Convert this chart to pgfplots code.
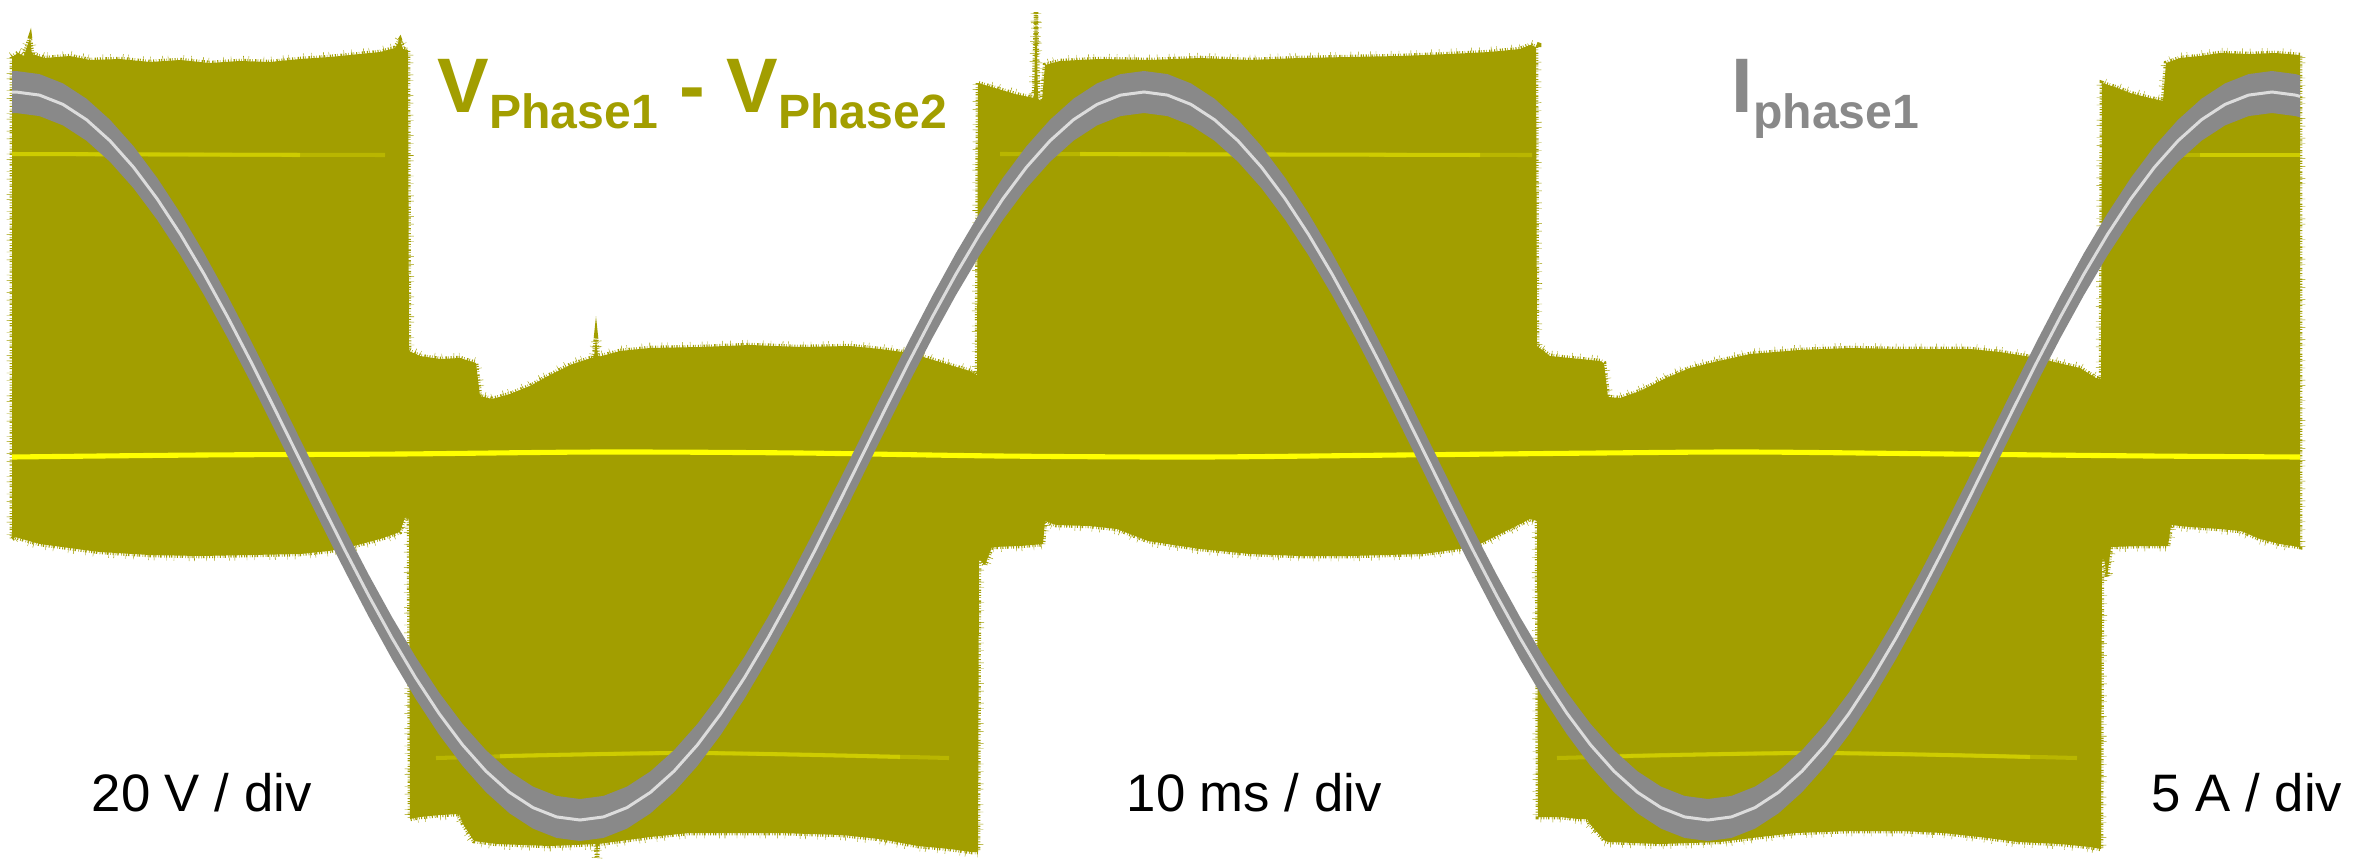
\documentclass[border=0pt]{standalone}
\usepackage{fontspec}
\setmainfont{Liberation Sans}
\usepackage{pgfplots}
\pgfplotsset{compat=1.18}
\usepackage{pgfplotstable}
\definecolor{band}{RGB}{162,158,0}
\definecolor{cur}{RGB}{137,137,137}
\definecolor{curline}{RGB}{220,220,220}
\definecolor{yl}{RGB}{255,255,0}

% mean phase current (pixel units, y downwards)
\pgfplotstableread{
x y
12 92.1
16 92
39.5 95.1
63 104.4
86.5 119.7
110 140.8
133.5 167.2
157 198.6
180.5 234.4
204 274
227.5 316.7
251 361.8
274.5 408.5
298 456
321.5 503.5
345 550.2
368.5 595.3
392 638
415.5 677.6
439 713.4
462.5 744.8
486 771.2
509.5 792.3
533 807.6
556.5 816.9
580 820
603.5 816.9
627 807.6
650.5 792.3
674 771.2
697.5 744.8
721 713.4
744.5 677.6
768 638
791.5 595.3
815 550.2
838.5 503.5
862 456
885.5 408.5
909 361.8
932.5 316.7
956 274
979.5 234.4
1003 198.6
1026.5 167.2
1050 140.8
1073.5 119.7
1097 104.4
1120.5 95.1
1144 92
1167.5 95.1
1191 104.4
1214.5 119.7
1238 140.8
1261.5 167.2
1285 198.6
1308.5 234.4
1332 274
1355.5 316.7
1379 361.8
1402.5 408.5
1426 456
1449.5 503.5
1473 550.2
1496.5 595.3
1520 638
1543.5 677.6
1567 713.4
1590.5 744.8
1614 771.2
1637.5 792.3
1661 807.6
1684.5 816.9
1708 820
1731.5 816.9
1755 807.6
1778.5 792.3
1802 771.2
1825.5 744.8
1849 713.4
1872.5 677.6
1896 638
1919.5 595.3
1943 550.2
1966.5 503.5
1990 456
2013.5 408.5
2037 361.8
2060.5 316.7
2084 274
2107.5 234.4
2131 198.6
2154.5 167.2
2178 140.8
2201.5 119.7
2225 104.4
2248.5 95.1
2272 92
2295.5 95.1
2300 96.4
}\current

% ripple band of the phase current (upper edge, then lower edge back)
\pgfplotstableread{
x y
12 71.1
16 71
39.5 74.1
63 83.4
86.5 98.7
110 119.8
133.5 146.2
157 177.6
180.5 213.4
204 253
227.5 295.7
251 340.8
274.5 387.5
298 435
321.5 482.5
345 529.2
368.5 574.3
392 617
415.5 656.6
439 692.4
462.5 723.8
486 750.2
509.5 771.3
533 786.6
556.5 795.9
580 799
603.5 795.9
627 786.6
650.5 771.3
674 750.2
697.5 723.8
721 692.4
744.5 656.6
768 617
791.5 574.3
815 529.2
838.5 482.5
862 435
885.5 387.5
909 340.8
932.5 295.7
956 253
979.5 213.4
1003 177.6
1026.5 146.2
1050 119.8
1073.5 98.7
1097 83.4
1120.5 74.1
1144 71
1167.5 74.1
1191 83.4
1214.5 98.7
1238 119.8
1261.5 146.2
1285 177.6
1308.5 213.4
1332 253
1355.5 295.7
1379 340.8
1402.5 387.5
1426 435
1449.5 482.5
1473 529.2
1496.5 574.3
1520 617
1543.5 656.6
1567 692.4
1590.5 723.8
1614 750.2
1637.5 771.3
1661 786.6
1684.5 795.9
1708 799
1731.5 795.9
1755 786.6
1778.5 771.3
1802 750.2
1825.5 723.8
1849 692.4
1872.5 656.6
1896 617
1919.5 574.3
1943 529.2
1966.5 482.5
1990 435
2013.5 387.5
2037 340.8
2060.5 295.7
2084 253
2107.5 213.4
2131 177.6
2154.5 146.2
2178 119.8
2201.5 98.7
2225 83.4
2248.5 74.1
2272 71
2295.5 74.1
2300 75.4
2300 117.4
2295.5 116.1
2272 113
2248.5 116.1
2225 125.4
2201.5 140.7
2178 161.8
2154.5 188.2
2131 219.6
2107.5 255.4
2084 295
2060.5 337.7
2037 382.8
2013.5 429.5
1990 477
1966.5 524.5
1943 571.2
1919.5 616.3
1896 659
1872.5 698.6
1849 734.4
1825.5 765.8
1802 792.2
1778.5 813.3
1755 828.6
1731.5 837.9
1708 841
1684.5 837.9
1661 828.6
1637.5 813.3
1614 792.2
1590.5 765.8
1567 734.4
1543.5 698.6
1520 659
1496.5 616.3
1473 571.2
1449.5 524.5
1426 477
1402.5 429.5
1379 382.8
1355.5 337.7
1332 295
1308.5 255.4
1285 219.6
1261.5 188.2
1238 161.8
1214.5 140.7
1191 125.4
1167.5 116.1
1144 113
1120.5 116.1
1097 125.4
1073.5 140.7
1050 161.8
1026.5 188.2
1003 219.6
979.5 255.4
956 295
932.5 337.7
909 382.8
885.5 429.5
862 477
838.5 524.5
815 571.2
791.5 616.3
768 659
744.5 698.6
721 734.4
697.5 765.8
674 792.2
650.5 813.3
627 828.6
603.5 837.9
580 841
556.5 837.9
533 828.6
509.5 813.3
486 792.2
462.5 765.8
439 734.4
415.5 698.6
392 659
368.5 616.3
345 571.2
321.5 524.5
298 477
274.5 429.5
251 382.8
227.5 337.7
204 295
180.5 255.4
157 219.6
133.5 188.2
110 161.8
86.5 140.7
63 125.4
39.5 116.1
16 113
12 113.1
}\ripple

% envelope of the PWM line-to-line voltage (top edge, then bottom edge back)
\pgfplotstableread{
x y
12 57
18 53
24 56
30 38
32 54
45 58
70 56
90 60
120 59
150 62
180 60
210 63
240 61
270 62
300 59
330 57
360 54
380 52
395 48
400 40
403 49
408 50
409 351
420 356
440 359
460 358
476 363
480 396
492 399
510 394
530 386
548 376
570 365
594 357
596 338
598 357
620 351
650 348
700 347
750 345
800 347
850 346
880 349
910 353
930 359
950 365
970 371
977 375
978 83
995 88
1015 94
1034 98
1036 12
1038 99
1042 101
1045 65
1060 61
1100 59
1150 60
1200 58
1250 60
1300 58
1350 57
1400 56
1450 54
1490 52
1520 49
1530 45
1536 47
1537 346
1550 356
1580 359
1600 361
1604 363
1608 397
1620 398
1640 391
1666 378
1690 368
1710 363
1750 354
1800 350
1850 348
1900 349
1970 349
2000 352
2025 356
2050 361
2080 368
2096 378
2101 379
2102 83
2115 87
2130 93
2150 98
2163 101
2166 63
2180 58
2200 56
2220 53
2250 54
2275 53
2300 55
2300 547
2280 544
2260 539
2241 531
2220 529
2190 527
2171 525
2168 546
2140 546
2111 547
2107 577
2104 559
2102 559
2101 849
2090 847
2060 844
2018 842
1980 837
1943 833
1900 831
1850 831
1795 833
1760 837
1720 842
1660 844
1609 842
1605 841
1590 824
1587 819
1579 819
1560 817
1538 817
1537 521
1530 519
1520 524
1500 534
1480 544
1460 549
1423 554
1350 556
1300 556
1250 554
1200 549
1148 541
1117 529
1090 526
1056 525
1045 521
1043 544
1020 546
992 547
985 565
979 559
978 852
972 852
950 849
918 846
880 839
842 835
780 833
689 833
650 837
598 844
597 858
596 844
550 846
497 844
474 841
463 824
459 814
440 815
420 817
410 819
409 519
405 517
400 532
380 539
350 547
329 551
300 554
250 555
200 556
150 555
100 552
77 549
40 544
15 537
12 539
}\envelope

\begin{document}
\begin{tikzpicture}
\begin{axis}[
  width=236.6mm, height=85.9mm, scale only axis,
  xmin=0, xmax=2366, ymin=0, ymax=859, y dir=reverse,
  hide axis, clip=true]

% PWM voltage envelope with a fine noise fringe
\addplot[fill=band, draw=none] table {\envelope} --cycle;
\addplot[draw=band, line width=1.3pt,
  dash pattern=on 0.3pt off 0.45pt on 0.15pt off 0.7pt on 0.4pt off 0.3pt on 0.2pt off 0.55pt]
  table {\envelope} --cycle;
\addplot[draw=band, line width=3pt,
  dash pattern=on 0.12pt off 2.1pt on 0.1pt off 3.3pt on 0.15pt off 1.4pt on 0.1pt off 4.2pt]
  table {\envelope} --cycle;

% faint upper / lower level traces
\addplot[yl, opacity=0.25, line width=1.15pt] coordinates {(12,154) (385,155)};
\addplot[yl, opacity=0.3, line width=1.15pt] coordinates {(12,154) (300,155)};
\addplot[yl, opacity=0.25, line width=1.15pt] coordinates {(1000,154) (1532,155)};
\addplot[yl, opacity=0.3, line width=1.15pt] coordinates {(1080,154) (1480,155)};
\addplot[yl, opacity=0.25, line width=1.15pt] coordinates {(2150,155) (2300,155)};
\addplot[yl, opacity=0.3, line width=1.15pt] coordinates {(2200,155) (2300,155)};
\addplot[yl, opacity=0.25, line width=1.15pt, smooth] coordinates {(436,758) (690,753) (949,758)};
\addplot[yl, opacity=0.3, line width=1.15pt, smooth] coordinates {(500,756) (690,753) (900,757)};
\addplot[yl, opacity=0.25, line width=1.15pt, smooth] coordinates {(1557,758) (1815,753) (2077,758)};
\addplot[yl, opacity=0.3, line width=1.15pt, smooth] coordinates {(1620,756) (1815,753) (2030,757)};

% bright centre (zero) line
\addplot[yl, line width=1.45pt, smooth] coordinates {
(12,457) (200,455) (400,454) (600,452) (800,453) (1000,456) (1200,457) (1400,455) (1600,453) (1750,452) (1950,454) (2150,456) (2300,457)};

% phase current: ripple band and mean trace
\addplot[fill=cur, draw=none] table {\ripple} --cycle;
\addplot[curline, line width=0.85pt] table[x=x, y=y] {\current};

% labels
\node[anchor=base west, inner sep=0, text=band,
      font=\fontsize{22pt}{26pt}\selectfont\bfseries] at (axis cs:437,112)
  {V\raisebox{-4.6pt}{\fontsize{13.7pt}{16pt}\selectfont Phase1} - V\raisebox{-4.6pt}{\fontsize{13.7pt}{16pt}\selectfont Phase2}};
\node[anchor=base west, inner sep=0, text=cur,
      font=\fontsize{22pt}{26pt}\selectfont\bfseries] at (axis cs:1731,112)
  {I\raisebox{-4.6pt}{\fontsize{13.7pt}{16pt}\selectfont phase1}};
\node[anchor=base west, inner sep=0, font=\fontsize{15pt}{17pt}\selectfont] at (axis cs:91,811) {20 V / div};
\node[anchor=base west, inner sep=0, font=\fontsize{15pt}{17pt}\selectfont] at (axis cs:1126,811) {10 ms / div};
\node[anchor=base west, inner sep=0, font=\fontsize{15pt}{17pt}\selectfont] at (axis cs:2151,811) {5 A / div};
\end{axis}
\pgfresetboundingbox
\path (current axis.south west) rectangle (current axis.north east);
\end{tikzpicture}
\end{document}
